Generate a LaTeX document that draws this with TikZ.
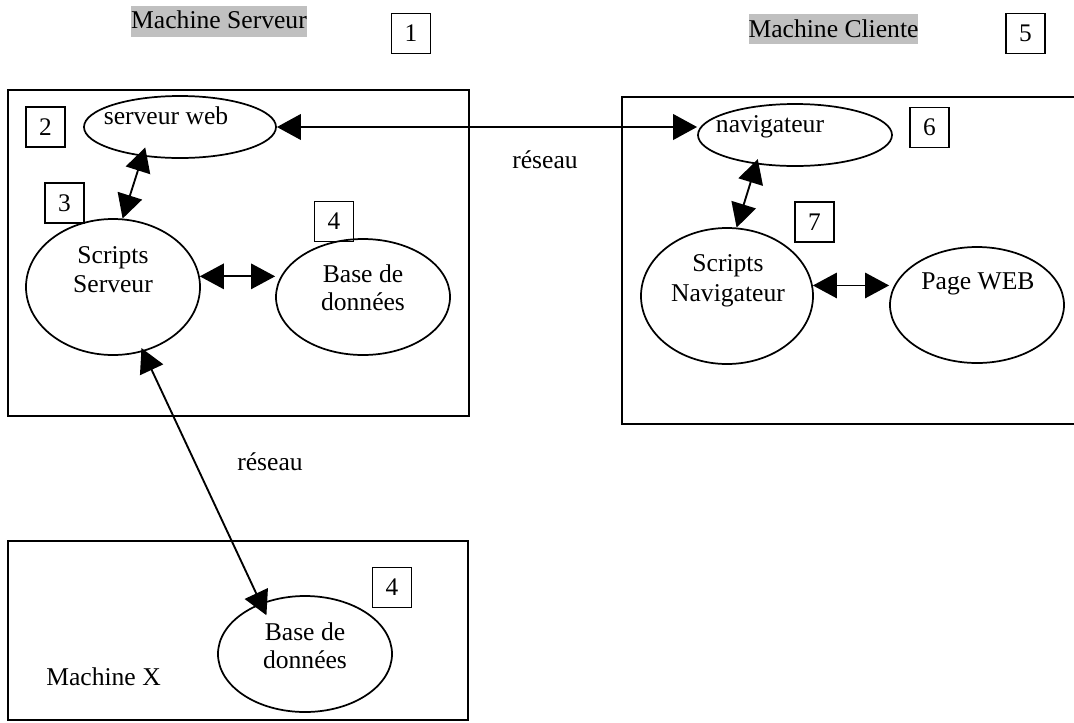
\documentclass[tikz,border=0pt]{standalone}
\usepackage{fontspec}
\setmainfont{Liberation Serif}
\usetikzlibrary{arrows.meta,shapes.geometric}
\definecolor{hl}{RGB}{192,192,192}
\begin{document}
\begin{tikzpicture}[x=0.75pt,y=-0.75pt,
  every node/.style={font=\fontsize{19.2}{22.5}\selectfont},
  bigbox/.style={draw, line width=1.4pt},
  numbox/.style={draw, line width=1.2pt, minimum width=29.5pt, minimum height=30pt, inner sep=0pt, font=\fontsize{19}{20}\selectfont},
  ell/.style={draw, ellipse, line width=1.3pt, inner sep=0pt},
  lbl/.style={anchor=base, inner sep=0pt},
  hlbox/.style={fill=hl, inner sep=0pt, anchor=base},
  dbl/.style={{Triangle[length=18pt,width=19pt]}-{Triangle[length=18pt,width=19pt]}, line width=1.4pt},
]
\useasboundingbox (0,0) rectangle (1074,722);
\clip (0,0) rectangle (1074,722);

% titles
\node[hlbox, minimum width=130.5pt, text height=16.5pt, text depth=6.5pt] (titS) at (219,28) {Machine Serveur};
\node[hlbox, minimum width=126.75pt, text height=17.25pt, text depth=5.25pt] (titC) at (833.5,37) {Machine Cliente};

% big boxes
\draw[bigbox] (8,90) rectangle (469,416);
\draw[bigbox] (622,97) rectangle (1090,424);
\draw[bigbox] (8,541) rectangle (468,720);

% number boxes
\node[numbox] (n1) at (411,33.5) {1};
\node[numbox] (n2) at (45.5,127) {2};
\node[numbox] (n3) at (64.5,203) {3};
\node[numbox] (n4a) at (334,221.5) {4};
\node[numbox] (n4b) at (392,587.5) {4};
\node[numbox] (n5) at (1025.5,33.5) {5};
\node[numbox] (n6) at (929.5,127.5) {6};
\node[numbox] (n7) at (814.5,222) {7};

% ellipses
\node[ell, minimum width=144pt, minimum height=46.5pt] (web) at (180,127) {};
\node[ell, minimum width=130.5pt, minimum height=102pt] (ss) at (113,287) {};
\node[ell, minimum width=130.5pt, minimum height=87pt] (bd1) at (363,297) {};
\node[ell, minimum width=130.5pt, minimum height=87pt] (bd2) at (305,654) {};
\node[ell, minimum width=145.5pt, minimum height=46.5pt] (nav) at (795,135) {};
\node[ell, minimum width=129pt, minimum height=102pt] (sn) at (727,296) {};
\node[ell, minimum width=130.5pt, minimum height=87pt] (pw) at (977,305) {};

% texts
\node[lbl] (tweb) at (166,124) {serveur web};
\node[lbl] (tss1) at (113,263) {Scripts};
\node[lbl] (tss2) at (113,292) {Serveur};
\node[lbl] (tbd1a) at (363,282) {Base de};
\node[lbl] (tbd1b) at (363,310) {données};
\node[lbl] (tbd2a) at (305,640) {Base de};
\node[lbl] (tbd2b) at (305,668) {données};
\node[lbl] (tnav) at (770,132) {navigateur};
\node[lbl] (tsn1) at (728,271) {Scripts};
\node[lbl] (tsn2) at (728,301) {Navigateur};
\node[lbl] (tpw) at (978,289) {Page WEB};
\node[lbl] (tmx) at (103.5,685) {Machine X};
\node[lbl] (res1) at (545,168) {réseau};
\node[lbl] (res2) at (270,470) {réseau};

% connectors
\draw[dbl, line width=2.2pt] (web.east) -- (web.east -| nav.west);
\draw[dbl, shorten <=-7pt] (web.218) -- (ss.82);
\draw[dbl] (ss.7) -- (ss.7 -| bd1.west);
\draw[dbl, shorten >=-10pt, shorten <=-3pt] (ss.-65) -- (bd2.131);
\draw[dbl, shorten <=-4pt] (nav.217) -- (sn.82);
\draw[dbl] (sn.7) -- (sn.7 -| pw.west);
\end{tikzpicture}
\end{document}
